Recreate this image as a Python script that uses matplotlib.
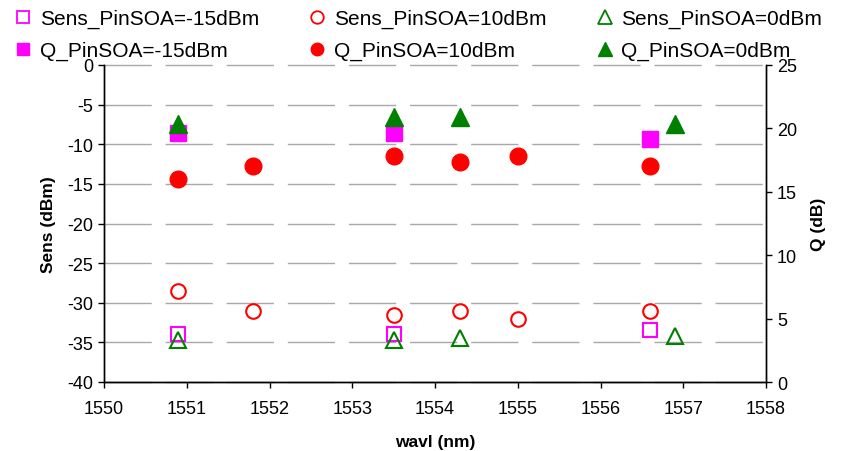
import matplotlib
matplotlib.use("Agg")
import matplotlib.pyplot as plt
from matplotlib.lines import Line2D

plt.rcParams['font.family'] = ['Liberation Sans', 'DejaVu Sans']
plt.rcParams['lines.scale_dashes'] = False
plt.rcParams['axes.unicode_minus'] = False

# Sensitivity (dBm) and Q (dB) vs wavelength for three SOA input powers
wavl_m15 = [1550.9, 1553.5, 1556.6]
sens_m15 = [-33.9, -33.9, -33.5]
q_m15 = [19.6, 19.6, 19.2]

wavl_10 = [1550.9, 1551.8, 1553.5, 1554.3, 1555.0, 1556.6]
sens_10 = [-28.5, -31.0, -31.6, -31.1, -32.0, -31.1]
q_10 = [16.0, 17.05, 17.8, 17.35, 17.8, 17.05]

wavl_0 = [1550.9, 1553.5, 1554.3, 1556.9]
sens_0 = [-34.7, -34.7, -34.4, -34.2]
q_0 = [20.35, 20.9, 20.9, 20.35]

x_ticks = list(range(1550, 1559))
sens_ticks = list(range(-40, 1, 5))
q_ticks = list(range(0, 26, 5))

magenta = '#ff00ff'
red = '#ff0000'
green = '#008000'

fig = plt.figure(figsize=(8.46, 4.52), dpi=100)
ax = fig.add_axes([104 / 846, 1 - 383 / 452, 662 / 846, 317 / 452])
ax2 = ax.twinx()

# open markers: sensitivity on the left axis
ax.plot(wavl_m15, sens_m15, ls='none', marker='s', ms=10.5, mfc='white',
        mec=magenta, mew=1.5, zorder=3)
ax.plot(wavl_10, sens_10, ls='none', marker='o', ms=10.5, mfc='white',
        mec=red, mew=1.5, zorder=3)
ax.plot(wavl_0, sens_0, ls='none', marker='^', ms=12, mfc='none',
        mec=green, mew=1.5, zorder=3)

# filled markers: Q on the right axis
ax2.plot(wavl_m15, q_m15, ls='none', marker='s', ms=11.5, color=magenta)
ax2.plot(wavl_10, q_10, ls='none', marker='o', ms=12, color=red)
ax2.plot(wavl_0, q_0, ls='none', marker='^', ms=12.5, color=green)

ax.set_xlim(1550, 1558)
ax.set_ylim(-40, 0)
ax2.set_ylim(0, 25)
ax.set_xticks(x_ticks)
ax.set_yticks(sens_ticks)
ax2.set_yticks(q_ticks)

ax.grid(axis='y', color='#a8a8a8', lw=1.0, ls=(0, (34, 10)), clip_on=False)
ax.set_axisbelow(True)

for a in (ax, ax2):
    a.spines['top'].set_visible(False)
    for s in ('left', 'right', 'bottom'):
        a.spines[s].set_linewidth(1.0)
    a.tick_params(direction='out', length=4, width=1.0, labelsize=13, pad=4)
ax.tick_params(axis='x', pad=9)

ax.set_xlabel('wavl (nm)', fontsize=12.5, fontweight='bold', labelpad=12)
ax.set_ylabel('Sens (dBm)', fontsize=12.5, fontweight='bold', labelpad=8)
ax2.set_ylabel('Q (dB)', fontsize=12.5, fontweight='bold', labelpad=10)

handles = [
    Line2D([], [], ls='none', marker='s', ms=9, mfc='white', mec=magenta, mew=1.3),
    Line2D([], [], ls='none', marker='s', ms=9, color=magenta),
    Line2D([], [], ls='none', marker='o', ms=9, mfc='white', mec=red, mew=1.3),
    Line2D([], [], ls='none', marker='o', ms=9, color=red),
    Line2D([], [], ls='none', marker='^', ms=10, mfc='white', mec=green, mew=1.3),
    Line2D([], [], ls='none', marker='^', ms=10, color=green),
]
labels = ['Sens_PinSOA=-15dBm', 'Q_PinSOA=-15dBm',
          'Sens_PinSOA=10dBm', 'Q_PinSOA=10dBm',
          'Sens_PinSOA=0dBm', 'Q_PinSOA=0dBm']
fig.legend(handles, labels, ncol=3, loc='upper left',
           bbox_to_anchor=(0.0, 1.01), frameon=False, fontsize=15,
           handlelength=0.8, handletextpad=0.4, columnspacing=2.4,
           labelspacing=0.6, borderaxespad=0.3)

fig.savefig('out.png', dpi=100)
